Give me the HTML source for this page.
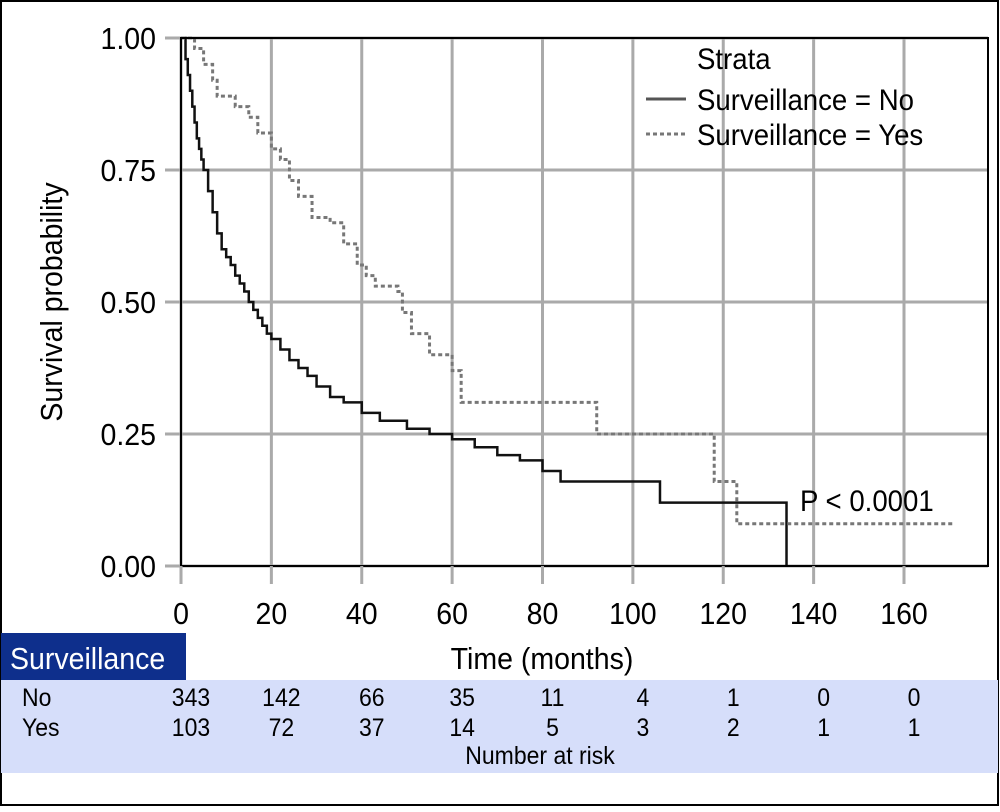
<!DOCTYPE html>
<html><head><meta charset="utf-8"><style>
body{margin:0;background:#fff}
svg text{font-family:"Liberation Sans",sans-serif;fill:#000;transform-box:fill-box;transform-origin:left center;transform:scaleX(0.92)}
svg text[text-anchor="middle"]{transform-origin:center center}
svg text[text-anchor="end"]{transform-origin:right center}
</style></head><body>
<svg id="chart" width="1000" height="807" viewBox="0 0 1000 807" xmlns="http://www.w3.org/2000/svg">
<rect x="1" y="1" width="997" height="804" fill="#fff" stroke="#000" stroke-width="2"/>
<g id="grid"></g>
<g id="curves"></g>
<rect x="181" y="38" width="807" height="528" fill="none" stroke="#000" stroke-width="2"/>
<g id="axes"></g>
<g transform="rotate(-90 52 302)"><text x="52" y="312" font-size="31" text-anchor="middle">Survival probability</text></g>
<text x="542" y="669" font-size="31" text-anchor="middle">Time (months)</text>
<g>
<text x="697" y="69" font-size="30">Strata</text>
<line x1="646" y1="99" x2="686" y2="99" stroke="#555" stroke-width="3"/>
<text x="697" y="110" font-size="30">Surveillance = No</text>
<line x1="646" y1="134" x2="686" y2="134" stroke="#777" stroke-width="3" stroke-dasharray="4,3"/>
<text x="697" y="145" font-size="30">Surveillance = Yes</text>
</g>
<text x="800" y="511" font-size="30">P &lt; 0.0001</text>
<rect x="1" y="680" width="997" height="93" fill="#d6defa"/>
<rect x="1" y="633" width="185" height="47" fill="#0e2f8c"/>
<text x="10" y="669" font-size="31" style="fill:#fff">Surveillance</text>
<text x="22" y="706" font-size="25">No</text>
<text x="22" y="736" font-size="25">Yes</text>
<g id="risk"></g>
<text x="540" y="764" font-size="25" text-anchor="middle">Number at risk</text>
</svg>
<script>
const xTicks=[0,20,40,60,80,100,120,140,160];
const yTicks=[0,0.25,0.5,0.75,1.0];
const yTickLabels=["0.00","0.25","0.50","0.75","1.00"];
const noTimes=[0,1,1.5,2,2.5,3,3.5,4,4.5,5,6,7,8,9,10,11,12,13,14,15,16,17,18,19,20,22,24,26,28,30,33,36,40,44,50,55,60,65,70,75,80,84,106,134];
const noSurv=[1,0.96,0.93,0.90,0.87,0.84,0.81,0.79,0.77,0.75,0.71,0.67,0.63,0.60,0.585,0.57,0.55,0.535,0.52,0.50,0.485,0.47,0.455,0.44,0.43,0.41,0.39,0.375,0.36,0.34,0.32,0.31,0.29,0.275,0.26,0.25,0.24,0.225,0.21,0.2,0.18,0.16,0.12,0];
const noEnd=134;
const yesTimes=[0,3,5,7,8,12,15,17,20,22,24,26,29,33,36,39,41,43,48,49,51,55,60,62,92,118,123];
const yesSurv=[1,0.98,0.95,0.92,0.89,0.87,0.85,0.82,0.79,0.77,0.73,0.70,0.66,0.65,0.61,0.57,0.55,0.53,0.52,0.48,0.44,0.40,0.37,0.31,0.25,0.16,0.08];
const yesEnd=171;
const riskNo=[343,142,66,35,11,4,1,0,0];
const riskYes=[103,72,37,14,5,3,2,1,1];
const X=t=>181+t*(904-181)/160, Y=s=>566-s*528;
const NS="http://www.w3.org/2000/svg";
function mk(tag,attrs,parent){const e=document.createElementNS(NS,tag);for(const k in attrs)e.setAttribute(k,attrs[k]);parent.appendChild(e);return e;}
const grid=document.getElementById('grid'),axes=document.getElementById('axes'),curves=document.getElementById('curves'),risk=document.getElementById('risk');
xTicks.forEach((t,i)=>{
 const l=mk('line',{x1:X(t),x2:X(t),y1:38,y2:566,stroke:'#aaa','stroke-width':3},grid);
 
 
 const tk=mk('line',{x1:X(t),x2:X(t),y1:566,y2:584,stroke:'#aaa','stroke-width':3},axes);
 
 
 const tx=mk('text',{x:X(t),y:624,'font-size':31,'text-anchor':'middle'},axes);tx.textContent=t;
 
 
 const a=mk('text',{x:X(t)+10,y:706,'font-size':25,'text-anchor':'middle'},risk);a.textContent=riskNo[i];
 
 
 const b=mk('text',{x:X(t)+10,y:736,'font-size':25,'text-anchor':'middle'},risk);b.textContent=riskYes[i];
 
 
});
yTicks.forEach((v,i)=>{
 const l=mk('line',{x1:165,x2:988,y1:Y(v),y2:Y(v),stroke:'#aaa','stroke-width':3},grid);
 
 
 const tx=mk('text',{x:156,y:Y(v)+11,'font-size':31,'text-anchor':'end'},axes);tx.textContent=yTickLabels[i];
 
 
});
function stepPath(ts,ss,end){let d='M'+X(ts[0])+','+Y(ss[0]);for(let i=1;i<ts.length;i++){d+=' H'+X(ts[i])+' V'+Y(ss[i]);}if(end>ts[ts.length-1])d+=' H'+X(end);return d;}
const pn=mk('path',{d:stepPath(noTimes,noSurv,noEnd),fill:'none',stroke:'#111','stroke-width':2.5},curves);


const py=mk('path',{d:stepPath(yesTimes,yesSurv,yesEnd),fill:'none',stroke:'#777','stroke-width':3,'stroke-dasharray':'4,3'},curves);


</script>
</body></html>
